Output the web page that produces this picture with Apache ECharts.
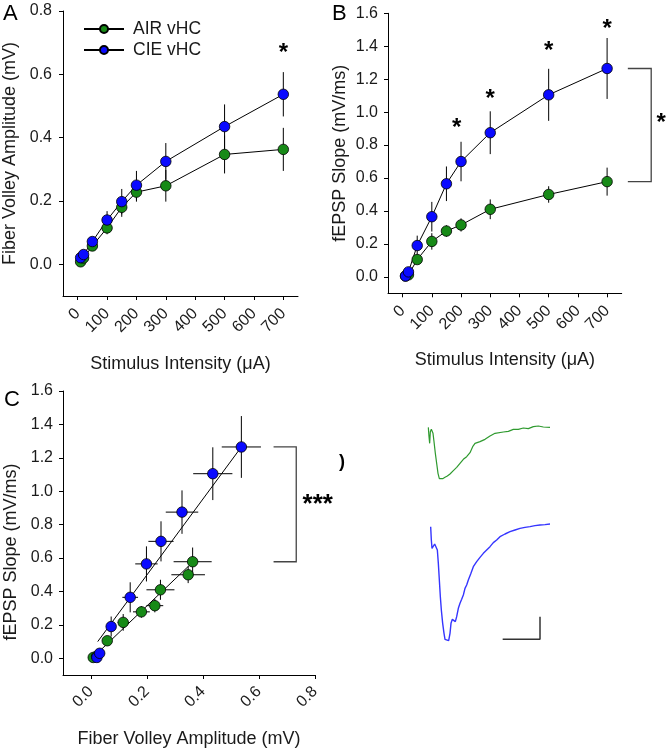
<!DOCTYPE html>
<html><head><meta charset="utf-8">
<script src="https://cdn.jsdelivr.net/npm/echarts@6/dist/echarts.min.js"></script>
<style>html,body{margin:0;padding:0;background:#fff}#c{width:666px;height:750px}</style>
</head><body><div id="c"></div>
<script>
// ---- data ----
const stimulus = [10, 20, 50, 100, 150, 200, 300, 500, 700];
const fvAir      = [0.008, 0.020, 0.058, 0.115, 0.180, 0.228, 0.248, 0.347, 0.363];
const fvAirErr   = [0.003, 0.005, 0.010, 0.020, 0.030, 0.030, 0.050, 0.060, 0.068];
const fvCie      = [0.021, 0.031, 0.072, 0.140, 0.198, 0.250, 0.325, 0.435, 0.537];
const fvCieErr   = [0.004, 0.006, 0.012, 0.028, 0.040, 0.045, 0.058, 0.070, 0.070];
const slopeAir    = [0.005, 0.012, 0.105, 0.215, 0.278, 0.315, 0.410, 0.500, 0.578];
const slopeAirErr = [0.003, 0.005, 0.020, 0.050, 0.035, 0.040, 0.060, 0.050, 0.085];
const slopeCie    = [0.005, 0.030, 0.190, 0.365, 0.565, 0.700, 0.875, 1.105, 1.265];
const slopeCieErr = [0.004, 0.010, 0.060, 0.090, 0.105, 0.120, 0.130, 0.158, 0.185];
// linear fits in panel C (endpoints)
const fitAirC = [[0.010, 0.010], [0.363, 0.575]];
const fitCieC = [[0.024, 0.100], [0.537, 1.265]];
// tick labels
const stimTicks = [0, 100, 200, 300, 400, 500, 600, 700];
const fvTicks = [0.0, 0.2, 0.4, 0.6, 0.8];
const slopeTicks = [0.0, 0.2, 0.4, 0.6, 0.8, 1.0, 1.2, 1.4, 1.6];
// significance annotations
const starsA = [[700, 0.682]];
const starsB = [[185, 0.93], [300, 1.11], [500, 1.40], [700, 1.535]];
const bracketB = [771, 851, 1.265, 0.578];
const bracketStarB = [[885, 0.962]];
const bracketC = [0.652, 0.733, 1.265, 0.578];
const bracketStarC = [[0.81, 0.95]];
// example traces (arbitrary units: time, amplitude)
const traceAirT = [205,207,209,211,214,217,219,222,226,230,234,238,242,248,255,262,270,280,290,300,310,320,330,338,345,360,375,390,405,410,430,445,460,475,490,505,520,535,550,570];
const traceAirV = [82,110,130,95,88,92,100,125,160,190,220,236,238,236,232,228,222,212,202,190,178,170,158,140,130,125,118,108,100,96,96,94,88,88,84,86,80,78,81,82];
const traceCieT = [212,214,216,220,224,228,232,235,238,241,244,248,252,255,260,266,270,273,277,281,286,290,295,300,305,310,315,320,325,332,340,350,360,370,380,390,400,410,420,435,450,465,480,495,510,525,540,555,570];
const traceCieV = [380,420,445,447,432,438,450,490,540,590,630,670,700,718,722,722,700,670,658,662,665,650,625,610,598,585,565,555,540,522,500,485,472,460,450,440,428,420,410,402,395,390,385,382,380,377,375,374,372];
const scaleBar = [[428, 718], [540, 718], [540, 650]];

// ---- styles ----
const FONT = '"Liberation Sans", Arial, sans-serif';
const GREEN = '#178a17', BLUE = '#0a0aff';
const TXT = '#1a1a1a';
const TICK_FS = 16, TITLE_FS = 18;

function valueAxis(opts) {
  return Object.assign({
    type: 'value', splitLine: {show: false},
    axisLine: {show: true, onZero: false, lineStyle: {color: '#000', width: 1}},
    nameLocation: 'middle',
    nameTextStyle: {fontFamily: FONT, fontSize: TITLE_FS, color: TXT},
  }, opts);
}
function tickCfg(values) {
  return {show: true, inside: false, length: 4, customValues: values, lineStyle: {color: '#000'}};
}
function labelCfg(values, fmt, rotate, margin) {
  return {customValues: values, formatter: fmt, rotate: rotate || 0, margin: margin || 6,
          fontFamily: FONT, fontSize: TICK_FS, color: TXT};
}
const f1 = v => Number(v).toFixed(1);
const f0 = v => String(Math.round(v));

function errSeries(xi, yi, xs, ys, xe, ye) {
  return {
    type: 'custom', xAxisIndex: xi, yAxisIndex: yi, z: 1, silent: true,
    data: xs.map((x, i) => [x, ys[i], xe ? xe[i] : 0, ye ? ye[i] : 0]),
    encode: {x: 0, y: 1},
    renderItem: function (params, api) {
      const x = api.value(0), y = api.value(1), dx = api.value(2), dy = api.value(3);
      const ch = [];
      if (dy) { const a = api.coord([x, y - dy]), b = api.coord([x, y + dy]);
        ch.push({type: 'line', shape: {x1: a[0], y1: a[1], x2: b[0], y2: b[1]}, style: {stroke: '#000', lineWidth: 1}}); }
      if (dx) { const a = api.coord([x - dx, y]), b = api.coord([x + dx, y]);
        ch.push({type: 'line', shape: {x1: a[0], y1: a[1], x2: b[0], y2: b[1]}, style: {stroke: '#000', lineWidth: 1}}); }
      return {type: 'group', children: ch};
    }
  };
}
function markerSeries(name, xi, yi, xs, ys, color, withLine) {
  return {
    type: 'line', name: name, xAxisIndex: xi, yAxisIndex: yi, z: 3,
    data: xs.map((x, i) => [x, ys[i]]),
    symbol: 'circle', symbolSize: 10.5, showSymbol: true,
    itemStyle: {color: color, borderColor: '#000', borderWidth: 0.8},
    lineStyle: withLine ? {color: '#000', width: 1} : {width: 0, opacity: 0},
    emphasis: {disabled: true}, animation: false
  };
}
function fitSeries(xi, yi, pts) {
  return {type: 'line', xAxisIndex: xi, yAxisIndex: yi, z: 2, data: pts, symbol: 'none',
          lineStyle: {color: '#000', width: 1}, silent: true, animation: false};
}
function starSeries(xi, yi, pts, text, size) {
  return {
    type: 'custom', xAxisIndex: xi, yAxisIndex: yi, z: 5, silent: true, data: pts, encode: {x: 0, y: 1},
    renderItem: function (params, api) {
      const p = api.coord([api.value(0), api.value(1)]);
      return {type: 'text', x: p[0], y: p[1] + 5,
        style: {text: text, fontFamily: FONT, fontSize: size || 24, fontWeight: 'bold', fill: '#000', align: 'center', verticalAlign: 'middle'}};
    }
  };
}
function bracketSeries(xi, yi, b) {
  return {
    type: 'custom', xAxisIndex: xi, yAxisIndex: yi, z: 4, silent: true, data: [b], encode: {x: [0, 1], y: [2, 3]},
    renderItem: function (params, api) {
      const a = api.coord([api.value(0), api.value(2)]), c = api.coord([api.value(1), api.value(2)]);
      const d = api.coord([api.value(1), api.value(3)]), e = api.coord([api.value(0), api.value(3)]);
      return {type: 'polyline', shape: {points: [a, c, d, e]}, style: {stroke: '#444', lineWidth: 1.3, fill: null}};
    }
  };
}

const chart = echarts.init(document.getElementById('c'), null, {renderer: 'canvas'});
const option = {
  animation: false,
  backgroundColor: '#fff',
  grid: [
    {left: 62, top: 11, width: 236, height: 285},
    {left: 388, top: 13.3, width: 233.7, height: 280},
    {left: 63, top: 391, width: 252, height: 284},
    {left: 426.67, top: 420, width: 126.67, height: 226.67}
  ],
  legend: {
    data: ['AIR vHC', 'CIE vHC'], orient: 'vertical', left: 83, top: 20, padding: 0,
    itemWidth: 40, itemHeight: 10, itemGap: 3,
    textStyle: {fontFamily: FONT, fontSize: 17.5, color: TXT, padding: [0, 0, 0, 4]}, selectedMode: false
  },
  xAxis: [
    valueAxis({gridIndex: 0, min: -50, max: 750, name: 'Stimulus Intensity (\u03bcA)', nameGap: 59,
      axisTick: tickCfg(stimTicks), axisLabel: labelCfg(stimTicks, f0, 45, 15)}),
    valueAxis({gridIndex: 1, min: -50, max: 750, name: 'Stimulus Intensity (\u03bcA)', nameGap: 58,
      axisTick: tickCfg(stimTicks), axisLabel: labelCfg(stimTicks, f0, 45, 15)}),
    valueAxis({gridIndex: 2, min: -0.1, max: 0.8, name: 'Fiber Volley Amplitude (mV)', nameGap: 55,
      axisTick: tickCfg(fvTicks), axisLabel: labelCfg(fvTicks, f1, 45, 14)}),
    {gridIndex: 3, type: 'value', min: 200, max: 580, show: false}
  ],
  yAxis: [
    valueAxis({gridIndex: 0, min: -0.1, max: 0.8, name: 'Fiber Volley Amplitude (mV)', nameGap: 44,
      axisTick: tickCfg(fvTicks), axisLabel: labelCfg(fvTicks, f1, 0, 11)}),
    valueAxis({gridIndex: 1, min: -0.1, max: 1.6, name: 'fEPSP Slope (mV/ms)', nameGap: 39,
      axisTick: tickCfg(slopeTicks), axisLabel: labelCfg(slopeTicks, f1, 0, 10)}),
    valueAxis({gridIndex: 2, min: -0.1, max: 1.6,
      axisTick: tickCfg(slopeTicks), axisLabel: labelCfg(slopeTicks, f1, 0, 10)}),
    {gridIndex: 3, type: 'value', min: -740, max: -60, show: false}
  ],
  graphic: [
    {type: 'text', left: 3, top: 3, style: {text: 'A', fontFamily: FONT, fontSize: 22, fill: '#000'}},
    {type: 'text', left: 332, top: 3, style: {text: 'B', fontFamily: FONT, fontSize: 22, fill: '#000'}},
    {type: 'text', left: 4, top: 389, style: {text: 'C', fontFamily: FONT, fontSize: 22, fill: '#000'}},
    {type: 'text', left: 339, top: 453, style: {text: ')', fontFamily: FONT, fontSize: 18, fontWeight: 'bold', fill: '#000'}},
    {type: 'text', x: 11, y: 552, rotation: Math.PI / 2,
      style: {text: 'fEPSP Slope (mV/ms)', fontFamily: FONT, fontSize: TITLE_FS, fill: TXT, align: 'center', verticalAlign: 'middle'}}
  ],
  series: [
    // Panel A
    errSeries(0, 0, stimulus, fvAir, null, fvAirErr),
    errSeries(0, 0, stimulus, fvCie, null, fvCieErr),
    markerSeries('AIR vHC', 0, 0, stimulus, fvAir, GREEN, true),
    markerSeries('CIE vHC', 0, 0, stimulus, fvCie, BLUE, true),
    starSeries(0, 0, starsA, '*'),
    // Panel B
    errSeries(1, 1, stimulus, slopeAir, null, slopeAirErr),
    errSeries(1, 1, stimulus, slopeCie, null, slopeCieErr),
    markerSeries('AIR vHC', 1, 1, stimulus, slopeAir, GREEN, true),
    markerSeries('CIE vHC', 1, 1, stimulus, slopeCie, BLUE, true),
    starSeries(1, 1, starsB, '*'),
    bracketSeries(1, 1, bracketB),
    starSeries(1, 1, bracketStarB, '*'),
    // Panel C
    errSeries(2, 2, fvAir, slopeAir, fvAirErr, slopeAirErr),
    errSeries(2, 2, fvCie, slopeCie, fvCieErr, slopeCieErr),
    fitSeries(2, 2, fitAirC),
    fitSeries(2, 2, fitCieC),
    markerSeries('AIR vHC', 2, 2, fvAir, slopeAir, GREEN, false),
    markerSeries('CIE vHC', 2, 2, fvCie, slopeCie, BLUE, false),
    bracketSeries(2, 2, bracketC),
    starSeries(2, 2, bracketStarC, '***', 26),
    // Traces
    {type: 'line', xAxisIndex: 3, yAxisIndex: 3, data: traceAirT.map((t, i) => [t, -traceAirV[i]]), symbol: 'none',
     lineStyle: {color: '#2f9a2f', width: 1.2}, silent: true},
    {type: 'line', xAxisIndex: 3, yAxisIndex: 3, data: traceCieT.map((t, i) => [t, -traceCieV[i]]), symbol: 'none',
     lineStyle: {color: '#3535ff', width: 1.4}, silent: true},
    {type: 'line', xAxisIndex: 3, yAxisIndex: 3, data: scaleBar.map(p => [p[0], -p[1]]), symbol: 'none',
     lineStyle: {color: '#333', width: 1.5}, silent: true}
  ]
};
chart.setOption(option);
</script></body></html>
